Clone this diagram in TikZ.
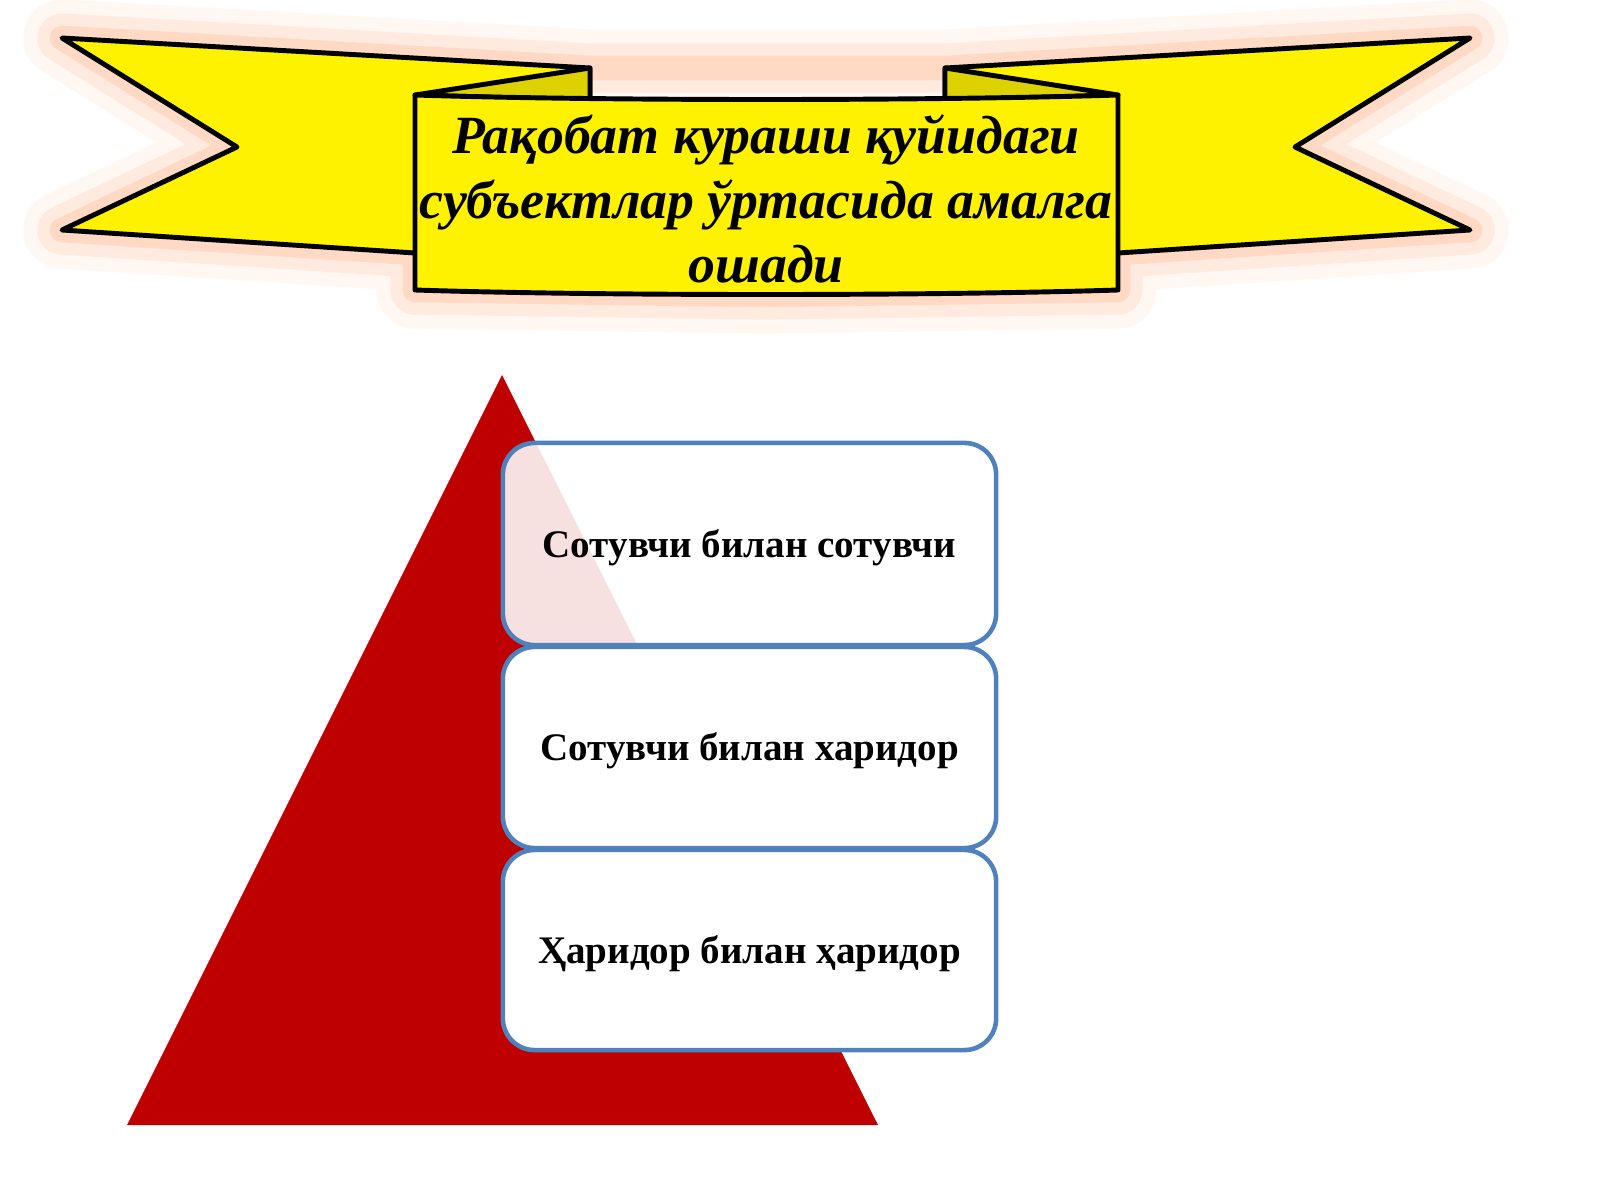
\documentclass[tikz,border=0pt]{standalone}
\usepackage{fontspec}
\setmainfont{Liberation Serif}
\definecolor{bord}{HTML}{4F81BD}
\begin{document}
\begin{tikzpicture}[x=0.01cm,y=-0.01cm,
  rib/.style={fill=yellow,draw=black,line width=1.4pt,line join=round},
  fold/.style={fill=yellow!70!olive,draw=black,line width=1.4pt,line join=round},
  box/.style={draw=bord,line width=1.3pt,rounded corners=9pt,fill=white,minimum width=4.93cm},
  lbl/.style={font=\fontsize{11.1pt}{13pt}\selectfont\bfseries}]
\useasboundingbox (0,0) rectangle (1600,1200);
% glow
\foreach \w/\o in {22/0.05,14/0.08,7/0.12}{
\draw[draw=orange!70!red,line width=\w pt,opacity=\o,line join=round] (62,38) -- (590,68) -- (945,68) -- (1470,38) -- (1295,147) -- (1470,230) -- (1118,253) -- (1118,290) -- (765,295) -- (415,290) -- (415,253) -- (62,230) -- (237,147) -- cycle;}
% tails
\path[rib] (62,38) -- (590,68) -- (590,253) -- (415,253) -- (62,230) -- (237,147) -- cycle;
\path[rib] (1470,38) -- (945,68) -- (945,253) -- (1118,253) -- (1470,230) -- (1295,147) -- cycle;
\path[fold] (415,95) -- (590,68) -- (590,100) -- cycle;
\path[fold] (1118,95) -- (945,68) -- (945,100) -- cycle;
% centre
\path[rib] (415,95) .. controls (600,101) and (930,101) .. (1118,95) -- (1118,290) .. controls (930,296) and (600,296) .. (415,290) -- cycle;
\node[font=\fontsize{15.3pt}{18.3pt}\selectfont\bfseries\itshape,align=center] (title) at (766,199)
 {Рақобат кураши қуйидаги\\субъектлар ўртасида амалга\\ошади};
% triangle
\path[fill=red!75!black] (502,375) -- (878,1125) -- (127,1125) -- cycle;
% boxes
\node[box,fill opacity=0.88,minimum height=2.02cm] (b1) at (749.5,544) {};
\node[lbl] (t1) at (749.5,548) {Сотувчи билан сотувчи};
\node[box,minimum height=2.01cm] (b2) at (749.5,747.5) {};
\node[lbl] (t2) at (749.5,751) {Сотувчи билан харидор};
\node[box,minimum height=2.0cm] (b3) at (749.5,950) {};
\node[lbl] (t3) at (749.5,954) {Ҳаридор билан ҳаридор};
\end{tikzpicture}
\end{document}
